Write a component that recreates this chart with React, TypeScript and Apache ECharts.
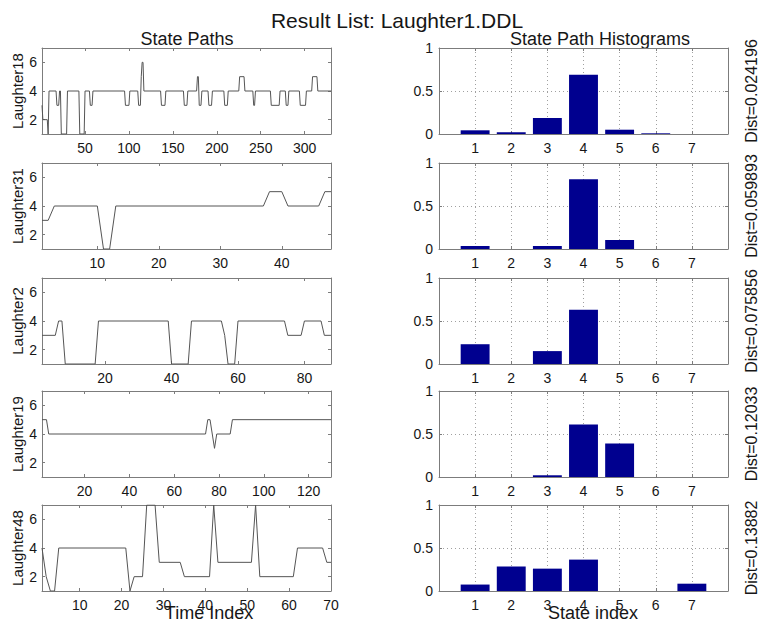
import React, { useEffect, useRef } from 'react';
import * as echarts from 'echarts';

// ---------- texts ----------
const MAIN_TITLE = 'Result List: Laughter1.DDL';
const LEFT_TITLE = 'State Paths';
const RIGHT_TITLE = 'State Path Histograms';
const LEFT_XLABEL = 'Time Index';
const RIGHT_XLABEL = 'State index';

const pathNames = ['Laughter18', 'Laughter31', 'Laughter2', 'Laughter19', 'Laughter48'];
const distLabels = ['Dist=0.024196', 'Dist=0.059893', 'Dist=0.075856', 'Dist=0.12033', 'Dist=0.13882'];

// ---------- axes ----------
const pathLengths = [330, 48, 88, 130, 70];
const pathXTicks = [
  [50, 100, 150, 200, 250, 300],
  [10, 20, 30, 40],
  [20, 40, 60, 80],
  [20, 40, 60, 80, 100, 120],
  [10, 20, 30, 40, 50, 60, 70],
];
const stateMin = 1;
const stateMax = 7;
const stateTicks = [2, 4, 6];
const states = [1, 2, 3, 4, 5, 6, 7];

// ---------- state paths: [time index, state] ----------
const path18 = [
  [1, 3], [2, 2], [7, 2], [8, 1], [9, 4], [17, 4], [18, 3], [20, 3], [21, 4], [22, 4], [23, 1],
  [29, 1], [30, 4], [43, 4], [44, 1], [49, 1], [50, 4], [55, 4], [56, 3], [58, 3], [59, 4],
  [95, 4], [96, 3], [100, 3], [101, 4], [110, 4], [111, 3], [113, 3], [114, 5], [115, 6], [116, 6],
  [117, 4], [136, 4], [137, 3], [141, 3], [142, 4], [162, 4], [163, 3], [166, 3], [167, 4],
  [177, 4], [178, 5], [179, 5], [180, 3], [182, 3], [183, 4], [190, 4], [191, 3], [194, 3], [195, 4],
  [208, 4], [209, 3], [212, 3], [213, 4], [225, 4], [226, 5], [231, 5], [232, 4], [241, 4], [242, 3],
  [243, 3], [244, 4], [261, 4], [262, 3], [271, 3], [272, 4], [278, 4], [279, 3], [281, 3], [282, 4],
  [294, 4], [295, 3], [301, 3], [302, 4], [308, 4], [309, 5], [314, 5], [315, 4], [330, 4],
];
const path31 = [
  [1, 3], [2, 3], [3, 4], [10, 4], [11, 1], [12, 1], [13, 4], [37, 4], [38, 5], [40, 5], [41, 4],
  [46, 4], [47, 5], [48, 5],
];
const path2 = [
  [1, 3], [5, 3], [6, 4], [7, 4], [8, 1], [17, 1], [18, 4], [39, 4], [40, 1], [45, 1], [46, 4],
  [55, 4], [56, 3], [57, 1], [59, 1], [60, 4], [74, 4], [75, 3], [79, 3], [80, 4], [85, 4], [86, 3],
  [88, 3],
];
const path19 = [
  [1, 5], [3, 5], [4, 4], [74, 4], [75, 5], [76, 5], [77, 4], [78, 3], [79, 4], [85, 4], [86, 5],
  [130, 5],
];
const path48 = [
  [1, 4], [2, 2], [3, 1], [4, 1], [5, 4], [21, 4], [22, 1], [23, 2], [25, 2], [26, 7], [28, 7],
  [29, 3], [34, 3], [35, 2], [41, 2], [42, 7], [43, 3], [51, 3], [52, 7], [53, 2], [61, 2], [62, 4],
  [68, 4], [69, 3], [70, 3],
];

// ---------- state path histograms (fraction per state 1..7) ----------
const hist18 = [0.043, 0.02, 0.186, 0.69, 0.05, 0.008, 0];
const hist31 = [0.035, 0, 0.035, 0.81, 0.105, 0, 0];
const hist2 = [0.23, 0, 0.15, 0.63, 0, 0, 0];
const hist19 = [0, 0, 0.02, 0.61, 0.39, 0, 0];
const hist48 = [0.075, 0.285, 0.26, 0.365, 0, 0, 0.085];

const paths = [path18, path31, path2, path19, path48];
const hists = [hist18, hist31, hist2, hist19, hist48];

// ---------- layout / style ----------
const FONT = '"Liberation Sans", Arial, Helvetica, sans-serif';
const ROW_TOPS = [48, 163, 278, 391, 505];
const ROW_H = 86;
const LEFT_X = 42;
const RIGHT_X = 439;
const PLOT_W = 289;
const FRAME = '#7c7c7c';
const TEXT = '#161616';
const LINE = '#555555';
const BAR = '#00008f';

function buildOption() {
  const grid: any[] = [];
  const xAxis: any[] = [];
  const yAxis: any[] = [];
  const series: any[] = [];
  const graphic: any[] = [];

  const axisLine = { show: true, onZero: false, lineStyle: { color: FRAME, width: 1 } };
  const tick = (vals?: number[]) => ({
    show: true,
    inside: true,
    length: 3,
    lineStyle: { color: FRAME, width: 1 },
    ...(vals ? { customValues: vals } : {}),
  });
  const lab = { color: TEXT, fontFamily: FONT, fontSize: 14 };
  const dotted = { show: true, lineStyle: { color: '#a0a0a0', width: 1, type: [1, 3] } };

  for (let i = 0; i < 5; i++) {
    const top = ROW_TOPS[i];
    grid.push({ left: LEFT_X, top, width: PLOT_W, height: ROW_H });
    grid.push({ left: RIGHT_X, top, width: PLOT_W, height: ROW_H });
    const gL = 2 * i;
    const gR = 2 * i + 1;
    const N = pathLengths[i];

    // left: state path
    xAxis.push({
      type: 'value', gridIndex: gL, position: 'bottom', min: 1, max: N,
      axisLine, axisTick: tick(pathXTicks[i]),
      axisLabel: { ...lab, margin: 7, customValues: pathXTicks[i] },
      splitLine: { show: false },
    });
    xAxis.push({
      type: 'value', gridIndex: gL, position: 'top', min: 1, max: N,
      axisLine, axisTick: tick(pathXTicks[i]), axisLabel: { show: false },
      splitLine: { show: false },
    });
    // right: histogram
    xAxis.push({
      type: 'value', gridIndex: gR, position: 'bottom', min: 0, max: 8, interval: 1,
      axisLine, axisTick: tick(),
      axisLabel: { ...lab, margin: 7, customValues: states },
      splitLine: dotted,
    });
    xAxis.push({
      type: 'value', gridIndex: gR, position: 'top', min: 0, max: 8, interval: 1,
      axisLine, axisTick: tick(), axisLabel: { show: false }, splitLine: { show: false },
    });

    yAxis.push({
      type: 'value', gridIndex: gL, position: 'left', min: stateMin, max: stateMax,
      axisLine, axisTick: tick(stateTicks),
      axisLabel: { ...lab, margin: 5, customValues: stateTicks },
      splitLine: { show: false },
    });
    yAxis.push({
      type: 'value', gridIndex: gL, position: 'right', min: stateMin, max: stateMax,
      axisLine, axisTick: tick(stateTicks), axisLabel: { show: false },
      splitLine: { show: false },
    });
    yAxis.push({
      type: 'value', gridIndex: gR, position: 'left', min: 0, max: 1, interval: 0.5,
      axisLine, axisTick: tick(), axisLabel: { ...lab, margin: 6 },
      splitLine: dotted,
    });
    yAxis.push({
      type: 'value', gridIndex: gR, position: 'right', min: 0, max: 1, interval: 0.5,
      axisLine, axisTick: tick(), axisLabel: { show: false }, splitLine: { show: false },
    });

    series.push({
      type: 'line', name: pathNames[i], xAxisIndex: 4 * i, yAxisIndex: 4 * i,
      data: paths[i], symbol: 'none', showSymbol: false, silent: true,
      lineStyle: { color: LINE, width: 1 },
    });
    series.push({
      type: 'bar', name: distLabels[i], xAxisIndex: 4 * i + 2, yAxisIndex: 4 * i + 2,
      data: hists[i].map((v, k) => [states[k], v]),
      barWidth: '80%', silent: true,
      itemStyle: { color: BAR, borderWidth: 0 },
    });

    const cy = top + ROW_H / 2;
    graphic.push({
      type: 'text', x: 17, y: cy, rotation: Math.PI / 2,
      style: { text: pathNames[i], fontFamily: FONT, fontSize: 15, fill: TEXT, align: 'center', verticalAlign: 'middle' },
    });
    graphic.push({
      type: 'text', x: 751, y: cy, rotation: Math.PI / 2,
      style: { text: distLabels[i], fontFamily: FONT, fontSize: 16, fill: TEXT, align: 'center', verticalAlign: 'middle' },
    });
  }

  const head = (text: string, x: number, y: number, size: number) => ({
    type: 'text', x, y,
    style: { text, fontFamily: FONT, fontSize: size, fill: TEXT, align: 'center', verticalAlign: 'middle' },
  });
  graphic.push(head(MAIN_TITLE, 397, 20, 21));
  graphic.push(head(LEFT_TITLE, 187, 39, 18));
  graphic.push(head(RIGHT_TITLE, 600, 39, 18));
  graphic.push(head(LEFT_XLABEL, 209, 613, 18));
  graphic.push(head(RIGHT_XLABEL, 593, 613, 18));

  return {
    animation: false,
    backgroundColor: '#ffffff',
    textStyle: { fontFamily: FONT },
    grid, xAxis, yAxis, series, graphic,
  };
}

export default function App() {
  const ref = useRef<HTMLDivElement>(null);
  useEffect(() => {
    if (!ref.current) return;
    const chart = echarts.init(ref.current, undefined, { renderer: 'svg' });
    chart.setOption(buildOption() as any);
    return () => chart.dispose();
  }, []);
  return (
    <div
      ref={ref}
      style={{ position: 'absolute', left: 0, top: 0, width: 759, height: 622, background: '#fff' }}
    />
  );
}
